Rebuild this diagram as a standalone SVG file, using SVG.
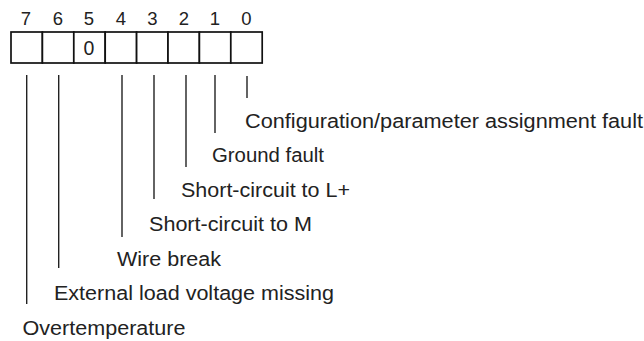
<svg xmlns="http://www.w3.org/2000/svg" width="644" height="341" viewBox="0 0 644 341">
<style>
.lbl{font-family:"Liberation Sans",Arial,sans-serif;font-size:19.5px;fill:#222}
.dig{font-family:"Liberation Sans",Arial,sans-serif;font-size:18.5px;fill:#222;text-anchor:middle}
.cell{fill:#fff;stroke:#111;stroke-width:1.7}
.ln{stroke:#222;stroke-width:1.4;fill:none}
</style>
<rect width="644" height="341" fill="#fff"/>
<g id="register">
<rect class="cell" x="11" y="32" width="31.4" height="31"/>
<rect class="cell" x="42.4" y="32" width="31.4" height="31"/>
<rect class="cell" x="73.8" y="32" width="31.4" height="31"/>
<rect class="cell" x="105.2" y="32" width="31.4" height="31"/>
<rect class="cell" x="136.6" y="32" width="31.4" height="31"/>
<rect class="cell" x="168" y="32" width="31.4" height="31"/>
<rect class="cell" x="199.4" y="32" width="31.4" height="31"/>
<rect class="cell" x="230.8" y="32" width="31.4" height="31"/>
<text class="dig" x="89" y="54.5" style="font-size:19.5px">0</text>
</g>
<g id="bit-numbers">
<text class="dig" x="26" y="24.5">7</text>
<text class="dig" x="58" y="24.5">6</text>
<text class="dig" x="89" y="24.5">5</text>
<text class="dig" x="121" y="24.5">4</text>
<text class="dig" x="152.5" y="24.5">3</text>
<text class="dig" x="184" y="24.5">2</text>
<text class="dig" x="215" y="24.5">1</text>
<text class="dig" x="246.5" y="24.5">0</text>
</g>
<g id="connectors">
<line class="ln" x1="247" y1="76" x2="247" y2="98"/>
<line class="ln" x1="215" y1="75" x2="215" y2="133"/>
<line class="ln" x1="186" y1="75" x2="186" y2="167"/>
<line class="ln" x1="154" y1="75" x2="154" y2="199"/>
<line class="ln" x1="122" y1="75" x2="122" y2="237"/>
<line class="ln" x1="58.7" y1="75" x2="58.7" y2="268"/>
<line class="ln" x1="26.7" y1="75" x2="26.7" y2="304"/>
</g>
<g id="label-bit0"><text class="lbl" x="245" y="127.5" textLength="398" lengthAdjust="spacingAndGlyphs">Configuration/parameter assignment fault</text></g>
<g id="label-bit1"><text class="lbl" x="212" y="162" textLength="112" lengthAdjust="spacingAndGlyphs">Ground fault</text></g>
<g id="label-bit2"><text class="lbl" x="181" y="196.5" textLength="169" lengthAdjust="spacingAndGlyphs">Short-circuit to L+</text></g>
<g id="label-bit3"><text class="lbl" x="149" y="231" textLength="163" lengthAdjust="spacingAndGlyphs">Short-circuit to M</text></g>
<g id="label-bit4"><text class="lbl" x="117" y="265.5" textLength="104" lengthAdjust="spacingAndGlyphs">Wire break</text></g>
<g id="label-bit6"><text class="lbl" x="54" y="300" textLength="280" lengthAdjust="spacingAndGlyphs">External load voltage missing</text></g>
<g id="label-bit7"><text class="lbl" x="22.5" y="334.5" textLength="163" lengthAdjust="spacingAndGlyphs">Overtemperature</text></g>
</svg>
